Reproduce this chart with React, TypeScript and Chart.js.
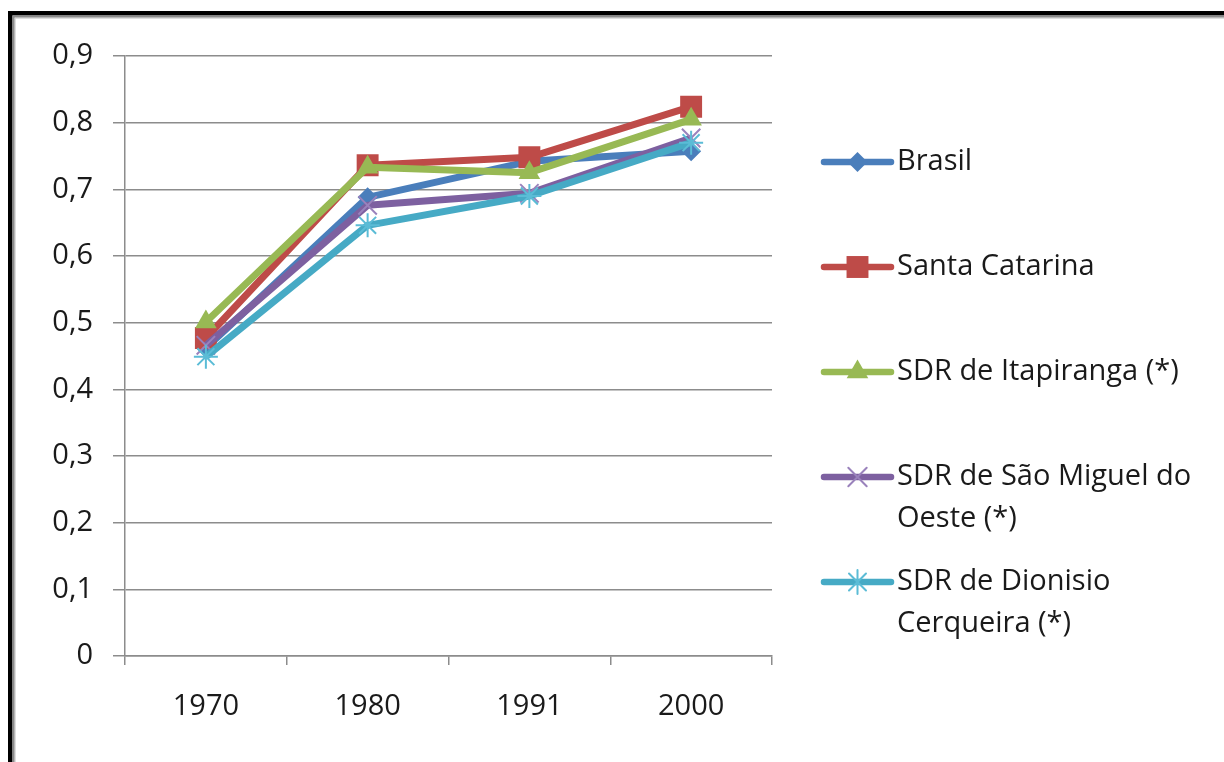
import React, { useEffect, useRef } from "react";
import { Chart, registerables } from "chart.js";

Chart.register(...registerables);

// Decennial years on the category axis
const years = ["1970", "1980", "1991", "2000"];

// Index values per region
const brasil = [0.462, 0.688, 0.742, 0.757];
const santaCatarina = [0.477, 0.736, 0.748, 0.824];
const itapiranga = [0.501, 0.733, 0.725, 0.805];
const saoMiguel = [0.466, 0.676, 0.694, 0.777];
const dionisio = [0.449, 0.646, 0.690, 0.770];

const seriesNames = [
  "Brasil",
  "Santa Catarina",
  "SDR de Itapiranga (*)",
  "SDR de São Miguel do Oeste (*)",
  "SDR de Dionisio Cerqueira (*)",
];

// Legend text split into the lines it wraps to
const legendLines = [
  ["Brasil"],
  ["Santa Catarina"],
  ["SDR de Itapiranga (*)"],
  ["SDR de São Miguel do", "Oeste (*)"],
  ["SDR de Dionisio", "Cerqueira (*)"],
];

const yTicksMax = 0.9;
const yStep = 0.1;

const colors = ["#4A7EBB", "#BE4B48", "#98B954", "#7D60A0", "#46AAC5"];
const markerColors = ["#4A7EBB", "#BE4B48", "#98B954", "#9A82BC", "#5BBCD6"];
const markers = ["rectRot", "rect", "triangle", "crossRot", "star"];
const markerRadius = [10, 15.5, 12.5, 13, 12];

const FONT = "'Open Sans', 'Noto Sans', sans-serif";

function drawMarker(ctx: CanvasRenderingContext2D, style: string, x: number, y: number, r: number, color: string) {
  ctx.save();
  ctx.fillStyle = color;
  ctx.strokeStyle = color;
  ctx.lineWidth = 2;
  ctx.beginPath();
  if (style === "rectRot") {
    ctx.moveTo(x, y - r);
    ctx.lineTo(x + r, y);
    ctx.lineTo(x, y + r);
    ctx.lineTo(x - r, y);
    ctx.closePath();
    ctx.fill();
  } else if (style === "rect") {
    const s = Math.SQRT1_2 * r;
    ctx.rect(x - s, y - s, 2 * s, 2 * s);
    ctx.fill();
  } else if (style === "triangle") {
    ctx.moveTo(x, y - r);
    ctx.lineTo(x + r * Math.sin(Math.PI / 3), y + r / 2);
    ctx.lineTo(x - r * Math.sin(Math.PI / 3), y + r / 2);
    ctx.closePath();
    ctx.fill();
  } else if (style === "crossRot") {
    const s = Math.SQRT1_2 * r;
    ctx.moveTo(x - s, y - s);
    ctx.lineTo(x + s, y + s);
    ctx.moveTo(x - s, y + s);
    ctx.lineTo(x + s, y - s);
    ctx.stroke();
  } else {
    const s = Math.SQRT1_2 * r;
    ctx.moveTo(x, y - r);
    ctx.lineTo(x, y + r);
    ctx.moveTo(x - s, y - s);
    ctx.lineTo(x + s, y + s);
    ctx.moveTo(x - s, y + s);
    ctx.lineTo(x + s, y - s);
    ctx.stroke();
  }
  ctx.restore();
}

// Outer frame of the chart object
const framePlugin = {
  id: "frame",
  beforeDraw(chart: any) {
    const { ctx, width, height } = chart;
    ctx.save();
    ctx.fillStyle = "#ffffff";
    ctx.fillRect(0, 0, width, height);
    ctx.fillStyle = "#000000";
    ctx.fillRect(8, 11, width - 8, 4.5);
    ctx.fillRect(8, 11, 4.5, height - 11);
    ctx.fillStyle = "#8a8a8a";
    ctx.fillRect(12.5, 15.5, width - 12.5, 2.2);
    ctx.fillRect(12.5, 15.5, 2.2, height - 15.5);
    ctx.fillStyle = "#d0d0d0";
    ctx.fillRect(14.7, 17.7, width - 14.7, 1);
    ctx.fillRect(14.7, 17.7, 1, height - 17.7);
    ctx.restore();
  },
};

// Legend at the right with widely spaced entries
const legendPlugin = {
  id: "sideLegend",
  afterDraw(chart: any) {
    const { ctx } = chart;
    const lineX0 = 824;
    const lineX1 = 891;
    const textX = 897;
    const firstY = 162;
    const rowGap = 105;
    const lineGap = 42;
    ctx.save();
    ctx.font = `29px ${FONT}`;
    ctx.textBaseline = "middle";
    ctx.textAlign = "left";
    legendLines.forEach((lines, i) => {
      const y = firstY + i * rowGap;
      ctx.strokeStyle = colors[i];
      ctx.lineWidth = 6.5;
      ctx.lineCap = "round";
      ctx.beginPath();
      ctx.moveTo(lineX0, y);
      ctx.lineTo(lineX1, y);
      ctx.stroke();
      drawMarker(ctx, markers[i], (lineX0 + lineX1) / 2, y, markerRadius[i], markerColors[i]);
      ctx.fillStyle = "#1a1a1a";
      lines.forEach((t, j) => ctx.fillText(t, textX, y + j * lineGap));
    });
    ctx.restore();
  },
};

export default function App() {
  const canvasRef = useRef<HTMLCanvasElement | null>(null);

  useEffect(() => {
    if (!canvasRef.current) return;
    const seriesData = [brasil, santaCatarina, itapiranga, saoMiguel, dionisio];
    const chart = new Chart(canvasRef.current, {
      type: "line",
      data: {
        labels: years,
        datasets: seriesData.map((d, i) => ({
          label: seriesNames[i],
          data: d,
          borderColor: colors[i],
          backgroundColor: markerColors[i],
          pointBorderColor: markerColors[i],
          pointBackgroundColor: markerColors[i],
          borderWidth: 7,
          borderJoinStyle: "round" as const,
          pointStyle: markers[i] as any,
          pointRadius: markerRadius[i],
          pointBorderWidth: i >= 3 ? 2 : 0,
          tension: 0,
          fill: false,
          order: seriesData.length - i,
        })),
      },
      options: {
        responsive: false,
        animation: false,
        events: [],
        layout: { padding: { left: 20, top: 56, right: 452, bottom: 0 } },
        plugins: {
          legend: { display: false },
          tooltip: { enabled: false },
          title: { display: false },
        },
        scales: {
          x: {
            offset: true,
            grid: {
              offset: true,
              drawOnChartArea: false,
              drawTicks: true,
              tickLength: 9,
              color: "#8c8c8c",
              lineWidth: 1.5,
            },
            border: { color: "#8c8c8c", width: 1.5 },
            ticks: {
              padding: 24,
              color: "#1a1a1a",
              font: { family: FONT, size: 29 },
              maxRotation: 0,
            },
            afterFit(scale: any) {
              scale.height = 106;
            },
          },
          y: {
            min: 0,
            max: yTicksMax,
            grid: {
              color: "#8c8c8c",
              lineWidth: 1.5,
              tickLength: 12,
            },
            border: { color: "#8c8c8c", width: 1.5 },
            ticks: {
              stepSize: yStep,
              padding: 20,
              color: "#1a1a1a",
              font: { family: FONT, size: 29 },
              callback: (v: any) => {
                const n = Number(v);
                return n === 0 ? "0" : n.toFixed(1).replace(".", ",");
              },
            },
            afterFit(scale: any) {
              scale.width = 105;
            },
          },
        },
      },
      plugins: [framePlugin, legendPlugin],
    });
    return () => chart.destroy();
  }, []);

  return (
    <div style={{ position: "absolute", left: 0, top: 0, width: 1224, height: 762, background: "#fff" }}>
      <canvas ref={canvasRef} width={1224} height={762} style={{ display: "block", width: 1224, height: 762 }} />
    </div>
  );
}
